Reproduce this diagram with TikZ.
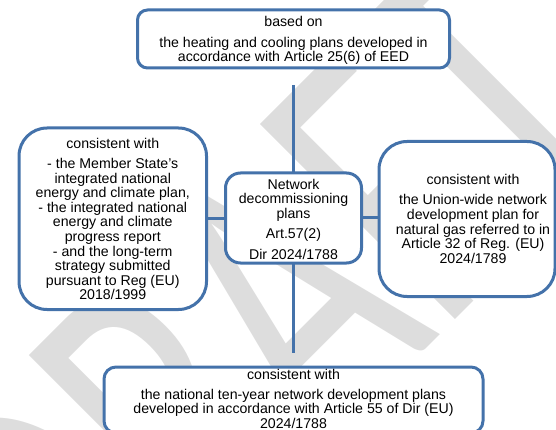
\documentclass[tikz,border=0pt]{standalone}
\usepackage{fontspec}
\setmainfont{Liberation Sans}
\newfontfamily\wmfont{Carlito}
\definecolor{boxblue}{RGB}{68,114,170}
\definecolor{wmgray}{RGB}{221,221,221}
\begin{document}
\begin{tikzpicture}[x=1pt,y=-1pt,
  box/.style={draw=boxblue, line width=3pt, fill=white, inner sep=0pt, outer sep=0pt},
  txt/.style={align=center, inner sep=0pt, anchor=north, font=\fontsize{14.15}{14.6}\selectfont},
  link/.style={draw=boxblue, line width=3pt},
  wm/.style={font=\wmfont\fontsize{430}{430}\selectfont, text=wmgray, rotate=45, xscale=0.68, anchor=base west, inner sep=0pt, outer sep=0pt}]
\useasboundingbox (0,0) rectangle (556,430);
\begin{scope}
\clip (0,0) rectangle (556,430);
\node[wm] (watermark) at (82.2,692.9) {DRAFT};
\end{scope}
\coordinate (topend) at (293.5,85);
\coordinate (botend) at (293.5,353);
\node[box, rounded corners=10pt, minimum width=312pt, minimum height=58pt] (top) at (293.5,39) {};
\node[box, rounded corners=15pt, minimum width=136pt, minimum height=90pt] (center) at (293.5,218) {};
\node[box, rounded corners=28pt, minimum width=187.5pt, minimum height=181.5pt] (left) at (112.75,218.75) {};
\node[box, rounded corners=28pt, minimum width=176pt, minimum height=155pt] (right) at (467,219) {};
\node[box, rounded corners=12pt, minimum width=379pt, minimum height=66pt] (bottom) at (293.5,400) {};
\draw[link] (topend) -- (center.north);
\draw[link] (center.south) -- (botend);
\draw[link] (left.east) -- (left.east -| center.west);
\draw[link] (center.east) -- (center.east -| right.west);
\node[txt] (toptext) at (293.5,15.8) {\rule{0pt}{11pt}based on\\[5.6pt] the heating and cooling plans developed in\\ accordance with Article 25(6) of EED};
\node[txt] (lefttext) at (112.75,137.1) {\rule{0pt}{11pt}consistent with\\[5.6pt] - the Member State's\\ integrated national\\ energy and climate plan,\\ - the integrated national\\ energy and climate\\ progress report\\ - and the long-term\\ strategy submitted\\ pursuant to Reg (EU)\\ 2018/1999};
\node[txt] (centertext) at (293.5,177.8) {\rule{0pt}{11pt}Network\\ decommissioning\\ plans\\[6pt] Art.57(2)\\[5.6pt] Dir 2024/1788};
\node[txt] (righttext) at (473,172.8) {\rule{0pt}{11pt}consistent with\\[6.4pt] the Union-wide network\\ development plan for\\ natural gas referred to in\\ Article 32 of Reg. (EU)\\ 2024/1789};
\node[txt] (bottomtext) at (293.5,367.8) {\rule{0pt}{11pt}consistent with\\[5.6pt] the national ten-year network development plans\\ developed in accordance with Article 55 of Dir (EU)\\ 2024/1788};
\end{tikzpicture}
\end{document}
